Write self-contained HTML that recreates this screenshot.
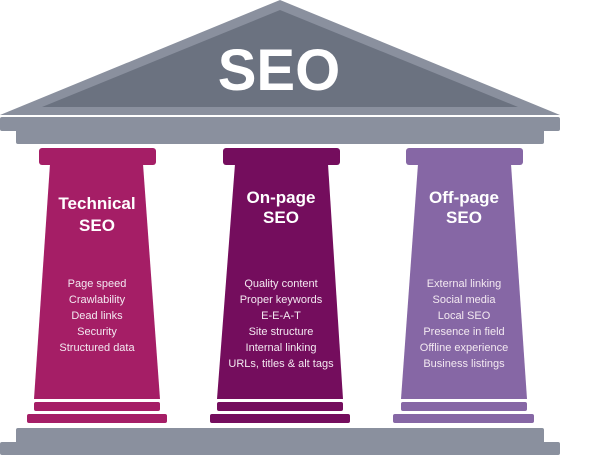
<!DOCTYPE html>
<html><head><meta charset="utf-8"><style>
html,body{margin:0;padding:0;background:#fff;}
svg text{font-family:"Liberation Sans",sans-serif;fill:#fff;text-anchor:middle;}
.t{font-size:17px;font-weight:bold;}
.i{font-size:11px;fill:#f3e9f1;}
</style></head><body>
<svg width="600" height="455" viewBox="0 0 600 455" xmlns="http://www.w3.org/2000/svg">
<polygon points="280,0 560,115 0,115" fill="#8a909e"/>
<polygon points="280,10 518,107 42,107" fill="#6b7280"/>
<text x="279" y="90" style="font-size:58px;font-weight:bold;">SEO</text>
<rect x="0" y="117" width="560" height="14" rx="2" fill="#8a909e"/>
<rect x="16" y="129" width="528" height="15" rx="2" fill="#8a909e"/>

<g fill="#a51e66">
<rect x="39" y="148" width="117" height="17" rx="3"/>
<polygon points="50,164 143,164 160,399 34,399"/>
<rect x="34" y="402" width="126" height="9" rx="2"/>
<rect x="27" y="414" width="140" height="9" rx="2"/>
</g>
<g fill="#740d5d">
<rect x="223" y="148" width="117" height="17" rx="3"/>
<polygon points="235,164 328,164 343,399 217,399"/>
<rect x="217" y="402" width="126" height="9" rx="2"/>
<rect x="210" y="414" width="140" height="9" rx="2"/>
</g>
<g fill="#8667a5">
<rect x="406" y="148" width="117" height="17" rx="3"/>
<polygon points="418,164 511,164 527,399 401,399"/>
<rect x="401" y="402" width="126" height="9" rx="2"/>
<rect x="393" y="414" width="141" height="9" rx="2"/>
</g>

<rect x="16" y="428" width="528" height="20" rx="2" fill="#8a909e"/>
<rect x="0" y="442" width="560" height="13" rx="2" fill="#8a909e"/>

<text class="t" x="97" y="209">Technical</text>
<text class="t" x="97" y="231">SEO</text>
<text class="t" x="281" y="203">On-page</text>
<text class="t" x="281" y="223">SEO</text>
<text class="t" x="464" y="203">Off-page</text>
<text class="t" x="464" y="223">SEO</text>

<text class="i" x="97" y="287">Page speed</text>
<text class="i" x="97" y="303">Crawlability</text>
<text class="i" x="97" y="319">Dead links</text>
<text class="i" x="97" y="335">Security</text>
<text class="i" x="97" y="351">Structured data</text>

<text class="i" x="281" y="287">Quality content</text>
<text class="i" x="281" y="303">Proper keywords</text>
<text class="i" x="281" y="319">E-E-A-T</text>
<text class="i" x="281" y="335">Site structure</text>
<text class="i" x="281" y="351">Internal linking</text>
<text class="i" x="281" y="367">URLs, titles &amp; alt tags</text>

<text class="i" x="464" y="287">External linking</text>
<text class="i" x="464" y="303">Social media</text>
<text class="i" x="464" y="319">Local SEO</text>
<text class="i" x="464" y="335">Presence in field</text>
<text class="i" x="464" y="351">Offline experience</text>
<text class="i" x="464" y="367">Business listings</text>
</svg>
</body></html>
